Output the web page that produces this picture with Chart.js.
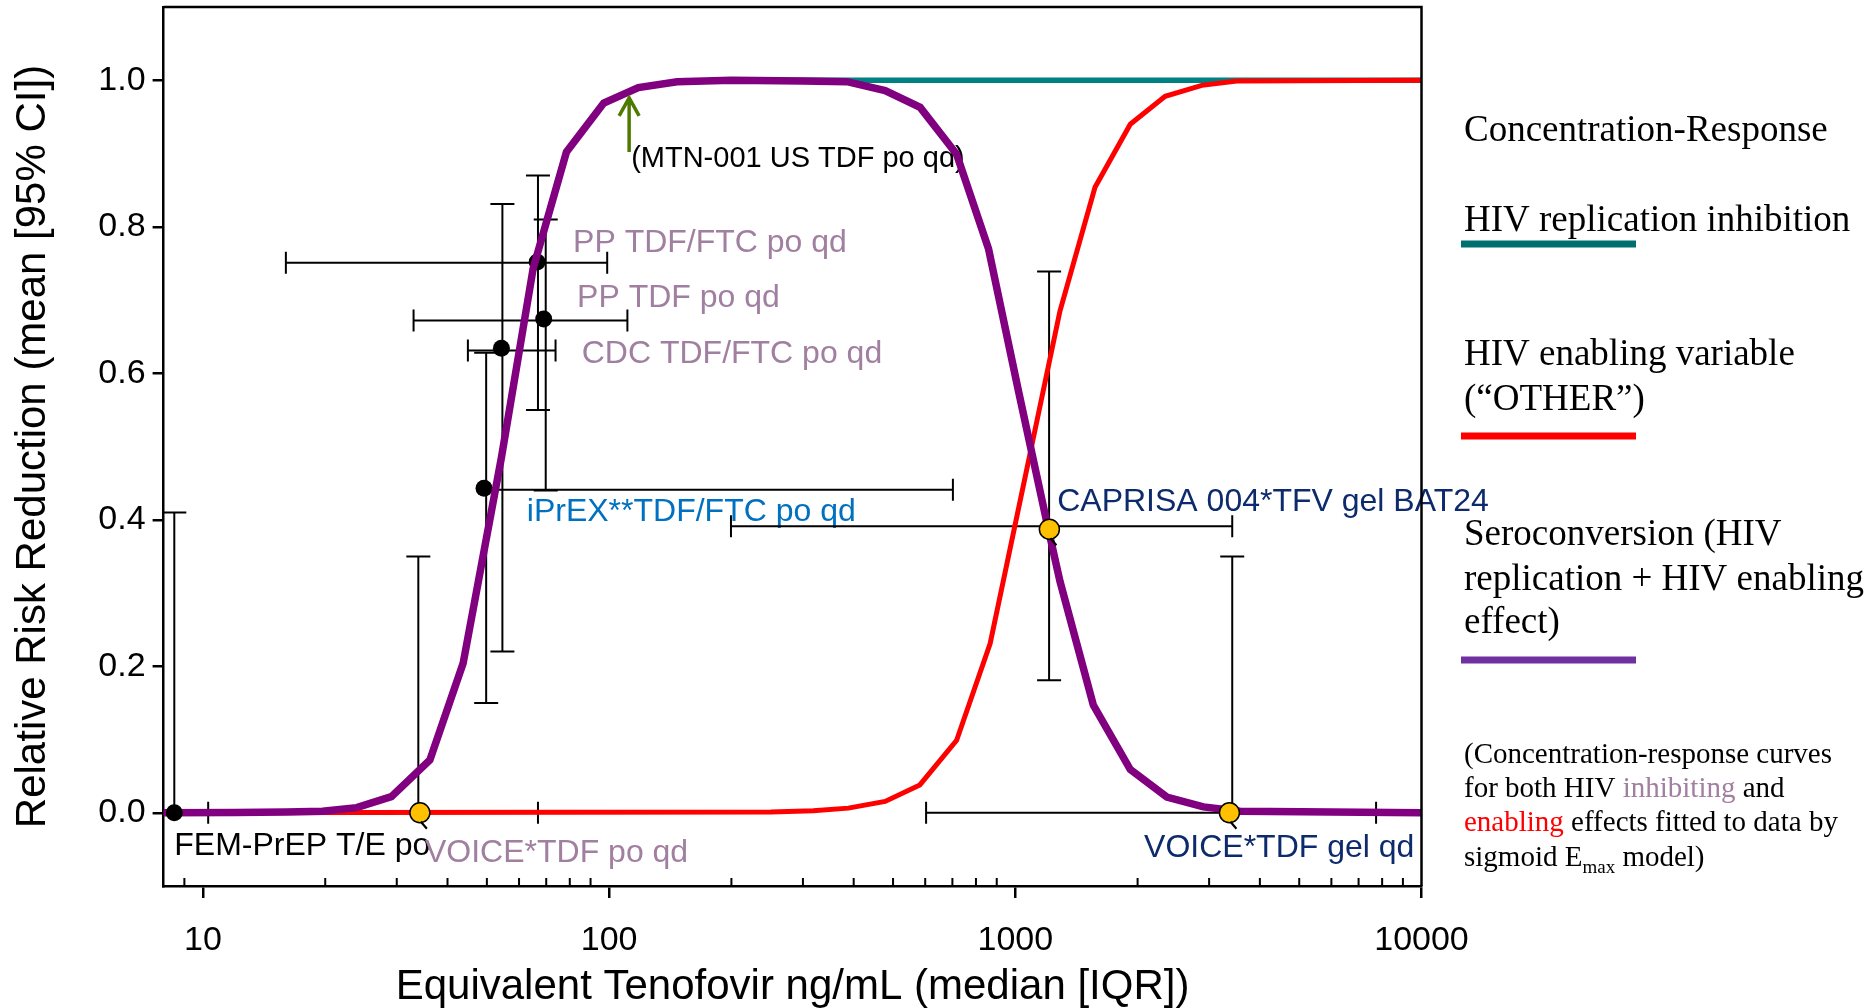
<!DOCTYPE html>
<html>
<head>
<meta charset="utf-8">
<script src="https://cdn.jsdelivr.net/npm/chart.js@4.4.1/dist/chart.umd.min.js"></script>
<style>
  html, body { margin: 0; padding: 0; background: #fff; }
</style>
</head>
<body>
<canvas id="chart" width="1873" height="1008"></canvas>
<script>
// fitted curves, vertices
const inhibX = [8, 12, 16, 19.7, 23.9, 29.1, 36.2, 43.7, 54.3, 65, 78.5, 97, 118, 147, 200, 10000];
const inhibY = [0, 0.0005, 0.001, 0.002, 0.007, 0.022, 0.072, 0.204, 0.485, 0.743, 0.902, 0.969, 0.990, 0.998, 1.0, 1.0];

const enableX = [8, 250, 318, 388, 478, 582, 717, 867, 1057, 1288, 1571, 1919, 2338, 2878, 3508, 10000];
const enableY = [0, 0.001, 0.0026, 0.0063, 0.0154, 0.038, 0.099, 0.231, 0.458, 0.685, 0.854, 0.940, 0.978, 0.993, 0.999, 1.0];

const seroX = [8, 12, 16, 19.7, 23.9, 29.1, 36.2, 43.7, 54.3, 65, 78.5, 97, 118, 147, 200, 300, 385, 478, 583, 717, 859, 1016, 1195, 1288, 1556, 1919, 2361, 2904, 3574, 10000];
const seroY = [0, 0.0005, 0.001, 0.002, 0.007, 0.022, 0.072, 0.204, 0.485, 0.743, 0.902, 0.969, 0.990, 0.998, 1.0, 0.999, 0.998, 0.986, 0.963, 0.899, 0.770, 0.578, 0.397, 0.316, 0.147, 0.059, 0.0215, 0.008, 0.002, 0];

// trials
const studies = ['FEM-PrEP T/E po', 'VOICE*TDF po qd', 'iPrEX**TDF/FTC po qd', 'CDC TDF/FTC po qd',
                 'PP TDF/FTC po qd', 'PP TDF po qd', 'CAPRISA 004*TFV gel BAT24', 'VOICE*TDF gel qd'];
const conc    = [8.5, 34.2, 49.2, 54.3, 66.5, 69.0, 1213, 3366];
const rrr     = [0, 0, 0.443, 0.634, 0.752, 0.674, 0.387, 0];
const ciX     = [8.5, 33.9, 49.8, 54.6, 66.8, 69.8, 1211, 3420];
const ciLow   = [0, 0, 0.15, 0.22, 0.55, 0.44, 0.181, 0];
const ciHigh  = [0.41, 0.35, 0.628, 0.831, 0.87, 0.81, 0.739, 0.35];
const iqrY    = [0, 0, 0.441, 0.631, 0.751, 0.672, 0.391, 0];
const iqrLow  = [8.5, 10.3, 49.2, 44.9, 16.0, 33.0, 199.5, 603];
const iqrHigh = [10.3, 66.8, 702, 73.8, 98.9, 110.9, 3420, 7730];
const yellowDot = [false, true, false, false, false, false, true, true];

// label anchors (left / middle), in data units
const labelX = [8.5, 35.2, 62.7, 85.6, 81.5, 83.4, 1268, 2075];
const labelY = [-0.045, -0.055, 0.41, 0.626, 0.777, 0.702, 0.424, -0.049];

const mtnX = 112;
const mtnY = [0.902, 0.976];
const mtnLabel = '(MTN-001 US TDF po qd)';

// axes
const xMajor = [10, 100, 1000, 10000];
const xMinor = [9, 20, 30, 40, 50, 60, 70, 80, 90, 200, 300, 400, 500, 600, 700, 800, 900,
                2000, 3000, 4000, 5000, 6000, 7000, 8000, 9000];
const yTicks = [0, 0.2, 0.4, 0.6, 0.8, 1.0];

const mauve = '#a07fa0';
const navy = '#0c2a6c';
const labelColor = ['#000', mauve, '#0070c0', mauve, mauve, mauve, navy, navy];

const SANS = '"Liberation Sans", Arial, sans-serif';
const SERIF = '"Liberation Serif", "Times New Roman", serif';

function pts(xs, ys) {
    return xs.map((v, i) => ({x: v, y: ys[i]}));
}

const datasets = [];

// error bars (drawn lowest)
studies.forEach((s, i) => {
    datasets.push({
        data: [{x: ciX[i], y: ciLow[i]}, {x: ciX[i], y: ciHigh[i]}],
        borderColor: '#000', borderWidth: 2,
        pointStyle: 'line', pointRadius: [ciLow[i] > 0 ? 12 : 0, 12],
        pointBorderColor: '#000', pointBorderWidth: 2,
        order: 20
    });
    const noCap = i === 0;
    datasets.push({
        data: [{x: iqrLow[i], y: iqrY[i]}, {x: iqrHigh[i], y: iqrY[i]}],
        borderColor: '#000', borderWidth: 2,
        pointStyle: 'line', pointRotation: 90,
        pointRadius: [noCap || i === 2 ? 0 : 11, noCap ? 0 : 11],
        pointBorderColor: '#000', pointBorderWidth: 2,
        order: 20
    });
});

// black study points
datasets.push({
    data: studies.map((s, i) => ({x: conc[i], y: rrr[i]})).filter((p, i) => !yellowDot[i] && i > 0),
    showLine: false, pointRadius: 8.5, pointBackgroundColor: '#000', pointBorderWidth: 0,
    order: 10
});

datasets.push({
    data: pts(inhibX, inhibY), borderColor: '#008080', borderWidth: 5.5, pointRadius: 0, order: 6
});
datasets.push({
    data: pts(enableX, enableY), borderColor: '#ff0000', borderWidth: 5, pointRadius: 0, order: 5
});
datasets.push({
    data: pts(seroX, seroY), borderColor: '#800080', borderWidth: 7.5, pointRadius: 0, order: 4
});

// FEM-PrEP point sits over the curves
datasets.push({
    data: [{x: conc[0], y: rrr[0]}],
    showLine: false, pointRadius: 8.5, pointBackgroundColor: '#000', pointBorderWidth: 0,
    order: 2
});
// yellow points on top
datasets.push({
    data: studies.map((s, i) => ({x: conc[i], y: rrr[i]})).filter((p, i) => yellowDot[i]),
    showLine: false, pointRadius: 10, pointBackgroundColor: '#ffc000',
    pointBorderColor: '#000', pointBorderWidth: 1.5,
    order: 1
});

const decor = {
    id: 'decor',
    beforeDatasetsDraw(chart) {
        const {ctx, scales: {x, y}} = chart;
        ctx.save();
        ctx.textBaseline = 'middle';
        ctx.textAlign = 'left';
        ctx.font = '32px ' + SANS;
        studies.forEach((s, i) => {
            ctx.fillStyle = labelColor[i];
            ctx.fillText(s, x.getPixelForValue(labelX[i]), y.getPixelForValue(labelY[i]));
        });
        ctx.font = '29px ' + SANS;
        ctx.fillStyle = '#000';
        ctx.fillText(mtnLabel, x.getPixelForValue(mtnX) + 2, y.getPixelForValue(0.892));
        ctx.restore();
    },
    afterDraw(chart) {
        const {ctx, chartArea: a, scales: {x, y}} = chart;
        ctx.save();
        // top / right frame
        ctx.strokeStyle = '#000';
        ctx.lineWidth = 2.5;
        ctx.beginPath();
        ctx.moveTo(a.left, a.top);
        ctx.lineTo(a.right, a.top);
        ctx.lineTo(a.right, a.bottom);
        ctx.stroke();
        // minor ticks point inward
        ctx.lineWidth = 2;
        ctx.beginPath();
        xMinor.forEach(v => {
            const px = x.getPixelForValue(v);
            ctx.moveTo(px, a.bottom);
            ctx.lineTo(px, a.bottom - 8);
        });
        ctx.stroke();

        // green arrow
        const ax = x.getPixelForValue(mtnX);
        const y0 = y.getPixelForValue(mtnY[0]), y1 = y.getPixelForValue(mtnY[1]);
        ctx.strokeStyle = '#4f7a00';
        ctx.lineWidth = 3.5;
        ctx.beginPath();
        ctx.moveTo(ax, y0);
        ctx.lineTo(ax, y1);
        ctx.moveTo(ax - 10, y1 + 18);
        ctx.lineTo(ax, y1);
        ctx.lineTo(ax + 10, y1 + 18);
        ctx.stroke();

        // little backtick marks under the yellow points
        ctx.strokeStyle = '#000';
        ctx.lineWidth = 2.2;
        studies.forEach((s, i) => {
            if (!yellowDot[i]) return;
            const px = x.getPixelForValue(conc[i]), py = y.getPixelForValue(rrr[i]);
            ctx.beginPath();
            ctx.moveTo(px + 1, py + 9);
            ctx.lineTo(px + 7, py + 16);
            ctx.stroke();
        });

        // legend
        const lx = 1464;
        ctx.fillStyle = '#000';
        ctx.textAlign = 'left';
        ctx.textBaseline = 'alphabetic';
        ctx.font = '37px ' + SERIF;
        ctx.fillText('Concentration-Response', lx, 141);
        ctx.fillText('HIV replication inhibition', lx, 231);
        ctx.fillText('HIV enabling variable', lx, 365);
        ctx.fillText('(\u201COTHER\u201D)', lx, 410);
        ctx.fillText('Seroconversion (HIV', lx, 545);
        ctx.fillText('replication + HIV enabling', lx, 590);
        ctx.fillText('effect)', lx, 633);
        const swatch = [['#006f6f', 244], ['#ff0000', 436], ['#7030a0', 660]];
        swatch.forEach(([c, yy]) => {
            ctx.fillStyle = c;
            ctx.fillRect(1461, yy - 3.5, 175, 7);
        });

        // note
        ctx.font = '29px ' + SERIF;
        ctx.fillStyle = '#000';
        ctx.fillText('(Concentration-response curves', lx, 763);
        let cx = lx;
        let by = 797;
        const seg = (t, c, f) => {
            ctx.fillStyle = c;
            if (f) ctx.font = f;
            ctx.fillText(t, cx, by);
            cx += ctx.measureText(t).width;
        };
        seg('for both HIV ', '#000');
        seg('inhibiting', mauve);
        seg(' and', '#000');
        cx = lx; by = 831;
        seg('enabling', '#ff0000');
        seg(' effects fitted to data by', '#000');
        cx = lx; by = 866;
        seg('sigmoid E', '#000');
        by = 873;
        seg('max', '#000', '19px ' + SERIF);
        by = 866;
        seg(' model)', '#000', '29px ' + SERIF);
        ctx.restore();
    }
};

const chart = new Chart(document.getElementById('chart'), {
    type: 'line',
    data: {datasets: datasets},
    options: {
        responsive: false,
        animation: false,
        devicePixelRatio: 1,
        layout: {autoPadding: false, padding: {left: 0, top: 7, right: 451.5, bottom: 0}},
        elements: {line: {tension: 0}},
        plugins: {legend: {display: false}, tooltip: {enabled: false}},
        scales: {
            x: {
                type: 'logarithmic',
                min: 8, max: 10000,
                afterBuildTicks: s => { s.ticks = xMajor.map(v => ({value: v, major: true})); },
                afterFit: s => { s.height = 122; s.paddingLeft = 0; s.paddingRight = 0; },
                ticks: {
                    autoSkip: false, maxRotation: 0, padding: 22, color: '#000',
                    font: {family: SANS, size: 34},
                    callback: v => String(v)
                },
                grid: {drawOnChartArea: false, drawTicks: true, tickLength: 12, color: '#000', lineWidth: 2.5},
                border: {display: true, color: '#000', width: 2.5},
                title: {
                    display: true, text: 'Equivalent Tenofovir ng/mL (median [IQR])', color: '#000',
                    font: {family: SANS, size: 42, lineHeight: 1}, padding: {top: 0, bottom: 0}
                }
            },
            y: {
                type: 'linear',
                min: -0.1, max: 1.1,
                afterBuildTicks: s => { s.ticks = yTicks.map(v => ({value: v})); },
                afterFit: s => { s.width = 163.6; s.paddingTop = 0; s.paddingBottom = 0; },
                ticks: {
                    padding: 7, color: '#000',
                    font: {family: SANS, size: 34},
                    callback: v => v.toFixed(1)
                },
                grid: {drawOnChartArea: false, drawTicks: true, tickLength: 11, color: '#000', lineWidth: 2.5},
                border: {display: true, color: '#000', width: 2.5},
                title: {
                    display: true, text: 'Relative Risk Reduction (mean [95% CI])', color: '#000',
                    font: {family: SANS, size: 42, lineHeight: 1}, padding: {top: 12, bottom: 0}
                }
            }
        }
    },
    plugins: [decor]
});
</script>
</body>
</html>
